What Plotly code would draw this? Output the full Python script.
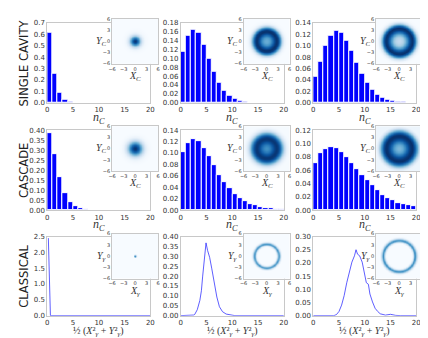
import numpy as np
import plotly.graph_objects as go

W, H = 428, 338

# ---------------- data ----------------
# photon-number distributions, bars at n = 0, 1, 2, ...
single_p1 = [0.615, 0.255, 0.085, 0.028, 0.008, 0.002, 0.0007, 0.0002]
single_p2 = [0.115, 0.151, 0.165, 0.158, 0.131, 0.098, 0.069, 0.045, 0.028, 0.016,
             0.009, 0.0045, 0.002, 0.001, 0.0005]
single_p3 = [0.045, 0.072, 0.100, 0.118, 0.126, 0.123, 0.109, 0.091, 0.070, 0.051,
             0.035, 0.023, 0.014, 0.0085, 0.005, 0.003, 0.0017, 0.001, 0.0005, 0.0003]
cascade_p1 = [0.384, 0.280, 0.167, 0.087, 0.042, 0.019, 0.010, 0.005, 0.002, 0.001]
cascade_p2 = [0.102, 0.118, 0.124, 0.120, 0.109, 0.095, 0.078, 0.062, 0.049, 0.038,
              0.028, 0.0215, 0.0153, 0.0108, 0.008, 0.0057, 0.004, 0.0028, 0.002, 0.0015]
cascade_p3 = [0.071, 0.085, 0.092, 0.095, 0.093, 0.087, 0.080, 0.071, 0.062, 0.053,
              0.045, 0.037, 0.030, 0.023, 0.018, 0.0146, 0.011, 0.0087, 0.0073, 0.0058]

# classical energy distributions
cl_E1 = [0.2, 0.6, 20.0]
cl_P1 = [2.45, 0.0, 0.0]
cl_E2 = [0.0, 2.0, 2.5, 2.7, 3.2, 3.7, 4.0, 4.25, 4.6, 4.9, 5.2, 5.6, 6.0, 6.5, 7.0,
         7.5, 8.1, 8.8, 9.7, 10.5, 20.0]
cl_P2 = [0.0, 0.0, 0.003, 0.006, 0.03, 0.077, 0.126, 0.2, 0.30, 0.368, 0.33, 0.295,
         0.24, 0.158, 0.094, 0.045, 0.02, 0.008, 0.002, 0.0, 0.0]
cl_E3 = [0.0, 4.0, 4.5, 5.0, 5.5, 6.0, 6.5, 7.0, 7.5, 8.0, 8.3, 8.6, 9.0, 9.5, 10.0,
         10.3, 10.7, 11.0, 11.5, 12.0, 12.5, 13.0, 14.0, 15.0, 16.0, 17.0, 20.0]
cl_P3 = [0.0, 0.0, 0.004, 0.016, 0.04, 0.076, 0.125, 0.167, 0.203, 0.227, 0.25, 0.233,
         0.227, 0.203, 0.161, 0.125, 0.119, 0.082, 0.052, 0.028, 0.016, 0.007, 0.002,
         0.005, 0.001, 0.0, 0.0]

# inset phase-space densities: radial profiles (radius, relative density)
r_q = [0, 0.5, 1.0, 1.5, 2.0, 2.5, 3.0, 3.5, 4.0, 4.5, 5.0, 5.5, 6.0]
q_single1 = [1.0, 0.88, 0.6, 0.3, 0.11, 0.03, 0.008, 0.002, 0, 0, 0, 0, 0]
q_single2 = [0.5, 0.52, 0.6, 0.74, 0.9, 1.0, 0.95, 0.65, 0.3, 0.08, 0.015, 0, 0]
q_single3 = [0.25, 0.27, 0.32, 0.43, 0.6, 0.8, 0.95, 1.0, 0.82, 0.45, 0.15, 0.03, 0]
q_casc1 = [1.0, 0.93, 0.78, 0.55, 0.33, 0.16, 0.06, 0.02, 0.005, 0, 0, 0, 0]
q_casc2 = [0.62, 0.65, 0.72, 0.82, 0.92, 0.98, 0.95, 0.8, 0.55, 0.3, 0.12, 0.04, 0.01]
q_casc3 = [0.45, 0.47, 0.53, 0.64, 0.78, 0.9, 0.98, 1.0, 0.88, 0.65, 0.38, 0.16, 0.05]
r_c1 = [0, 0.2, 0.35, 0.5, 6.0]
c_dot1 = [0.75, 0.6, 0.15, 0.0, 0.0]
r_c2 = [0, 2.4, 2.7, 3.0, 3.15, 3.3, 3.5, 3.75, 4.0, 6.0]
c_ring2 = [0, 0, 0.12, 0.5, 0.66, 0.55, 0.3, 0.08, 0, 0]
r_c3 = [0, 3.3, 3.6, 3.9, 4.1, 4.3, 4.5, 4.8, 5.1, 6.0]
c_ring3 = [0, 0, 0.12, 0.45, 0.66, 0.55, 0.35, 0.1, 0, 0]

row_labels = ["SINGLE CAVITY", "CASCADE", "CLASSICAL"]
x_ticks = [0, 5, 10, 15, 20]
inset_ticks = [-6, -3, 0, 3, 6]

# ---------------- layout geometry (pixels) ----------------
col_x = [(36, 141), (172, 277), (307, 412)]
row_y = [(11, 93), (121, 203), (230, 311)]
ins_x = [(102, 149), (236, 283), (371, 418)]
ins_y = [(7, 53), (117, 163), (227, 273)]

blues = [[0.0, "#f7fbff"], [0.125, "#deebf7"], [0.25, "#c6dbef"], [0.375, "#9ecae1"],
         [0.5, "#6baed6"], [0.625, "#4292c6"], [0.75, "#2171b5"], [0.875, "#08519c"],
         [1.0, "#08306b"]]

def px_x(a, b):
    return [a / W, b / W]

def px_y(a, b):
    return [1 - b / H, 1 - a / H]

fig = go.Figure()
layout = {}

bar_data = [[single_p1, single_p2, single_p3], [cascade_p1, cascade_p2, cascade_p3]]
line_data = [(cl_E1, cl_P1), (cl_E2, cl_P2), (cl_E3, cl_P3)]
y_ranges = [[0.7, 0.18, 0.14], [0.40, 0.14, 0.12], [2.5, 0.40, 0.30]]
y_dticks = [[0.1, 0.02, 0.02], [0.05, 0.02, 0.02], [0.5, 0.05, 0.05]]
y_fmts = [[".1f", ".2f", ".2f"], [".2f", ".2f", ".2f"], [".1f", ".2f", ".2f"]]
ins_profiles = [[(r_q, q_single1), (r_q, q_single2), (r_q, q_single3)],
                [(r_q, q_casc1), (r_q, q_casc2), (r_q, q_casc3)],
                [(r_c1, c_dot1), (r_c2, c_ring2), (r_c3, c_ring3)]]

grid = np.linspace(-6, 6, 121)
GX, GY = np.meshgrid(grid, grid)
GR = np.sqrt(GX ** 2 + GY ** 2)

tickfont = dict(family="DejaVu Sans", size=7, color="#333333")
insfont = dict(family="DejaVu Sans", size=5, color="#333333")
frame = "#c8c8c8"

for r in range(3):
    for c in range(3):
        i = r * 3 + c + 1
        s = "" if i == 1 else str(i)
        if r < 2:
            vals = bar_data[r][c]
            fig.add_trace(go.Bar(x=np.arange(len(vals)) + 0.5, y=vals, width=1.0,
                                 marker=dict(color="#0000ff", line=dict(color="white", width=1)),
                                 xaxis="x" + s, yaxis="y" + s, showlegend=False))
        else:
            ex, py = line_data[c]
            fig.add_trace(go.Scatter(x=ex, y=py, mode="lines",
                                     line=dict(color="rgba(40,40,255,0.75)", width=1),
                                     xaxis="x" + s, yaxis="y" + s, showlegend=False))
        layout["xaxis" + s] = dict(domain=px_x(*col_x[c]), range=[0, 20], tickvals=x_ticks,
                                   anchor="y" + s, showline=True, mirror=True, linecolor=frame,
                                   linewidth=1, showgrid=False, zeroline=False, ticks="",
                                   tickfont=tickfont, fixedrange=True)
        layout["yaxis" + s] = dict(domain=px_y(*row_y[r]), range=[0, y_ranges[r][c]],
                                   dtick=y_dticks[r][c], tickformat=y_fmts[r][c],
                                   anchor="x" + s, showline=True, mirror=True, linecolor=frame,
                                   linewidth=1, showgrid=False, zeroline=False, ticks="",
                                   tickfont=tickfont, fixedrange=True)

for r in range(3):
    for c in range(3):
        j = 10 + r * 3 + c
        s = str(j)
        rp, vp = ins_profiles[r][c]
        z = np.interp(GR, rp, vp)
        fig.add_trace(go.Heatmap(x=grid, y=grid, z=z, colorscale=blues, zmin=0, zmax=1,
                                 showscale=False, zsmooth="best",
                                 xaxis="x" + s, yaxis="y" + s, hoverinfo="skip"))
        layout["xaxis" + s] = dict(domain=px_x(*ins_x[c]), range=[-6, 6], tickvals=inset_ticks,
                                   anchor="y" + s, showline=True, mirror=True, linecolor=frame,
                                   linewidth=0.8, showgrid=False, zeroline=False, ticks="",
                                   tickfont=insfont, fixedrange=True)
        layout["yaxis" + s] = dict(domain=px_y(*ins_y[r]), range=[-6, 6], tickvals=inset_ticks,
                                   anchor="x" + s, showline=True, mirror=True, linecolor=frame,
                                   linewidth=0.8, showgrid=False, zeroline=False, ticks="",
                                   tickfont=insfont, fixedrange=True)

annotations = []
mathfont = dict(family="Liberation Serif", size=12, color="#333333")
mathfont3 = dict(family="Liberation Serif", size=10, color="#333333")
insmath = dict(family="Liberation Serif", size=10, color="#333333")
for r in range(3):
    yc = (row_y[r][0] + row_y[r][1]) / 2
    annotations.append(dict(text=row_labels[r], x=12 / W, y=1 - yc / H, xref="paper",
                            yref="paper", showarrow=False, textangle=-90,
                            font=dict(family="DejaVu Sans", size=11.5, color="#222222"),
                            xanchor="center", yanchor="middle"))
    for c in range(3):
        xc = (col_x[c][0] + col_x[c][1]) / 2
        if r < 2:
            annotations.append(dict(text="<i>n</i><sub><i>C</i></sub>", x=xc / W,
                                    y=1 - (row_y[r][1] + 15.5) / H, xref="paper", yref="paper",
                                    showarrow=False, font=mathfont, xanchor="center",
                                    yanchor="middle"))
        else:
            annotations.append(dict(text="½ (<i>X</i>²<sub><i>γ</i></sub> + <i>Y</i>²<sub><i>γ</i></sub>)",
                                    x=xc / W, y=1 - 327.5 / H, xref="paper", yref="paper",
                                    showarrow=False, font=mathfont3, xanchor="center",
                                    yanchor="middle", borderpad=0))
        sub = "<i>C</i>" if r < 2 else "<i>γ</i>"
        ixc = (ins_x[c][0] + ins_x[c][1]) / 2
        iyc = (ins_y[r][0] + ins_y[r][1]) / 2
        annotations.append(dict(text="<i>X</i><sub>" + sub + "</sub>", x=ixc / W,
                                y=1 - (ins_y[r][1] + 13) / H, xref="paper", yref="paper",
                                showarrow=False, font=insmath, xanchor="center", yanchor="middle"))
        annotations.append(dict(text="<i>Y</i><sub>" + sub + "</sub>", x=(ins_x[c][0] - 11) / W,
                                y=1 - iyc / H, xref="paper", yref="paper",
                                showarrow=False, font=insmath, xanchor="center", yanchor="middle"))

fig.update_layout(width=W, height=H, margin=dict(l=0, r=0, t=0, b=0),
                  paper_bgcolor="white", plot_bgcolor="white", bargap=0,
                  annotations=annotations, showlegend=False, **layout)

fig.write_html("out.html", config={"displayModeBar": False})
